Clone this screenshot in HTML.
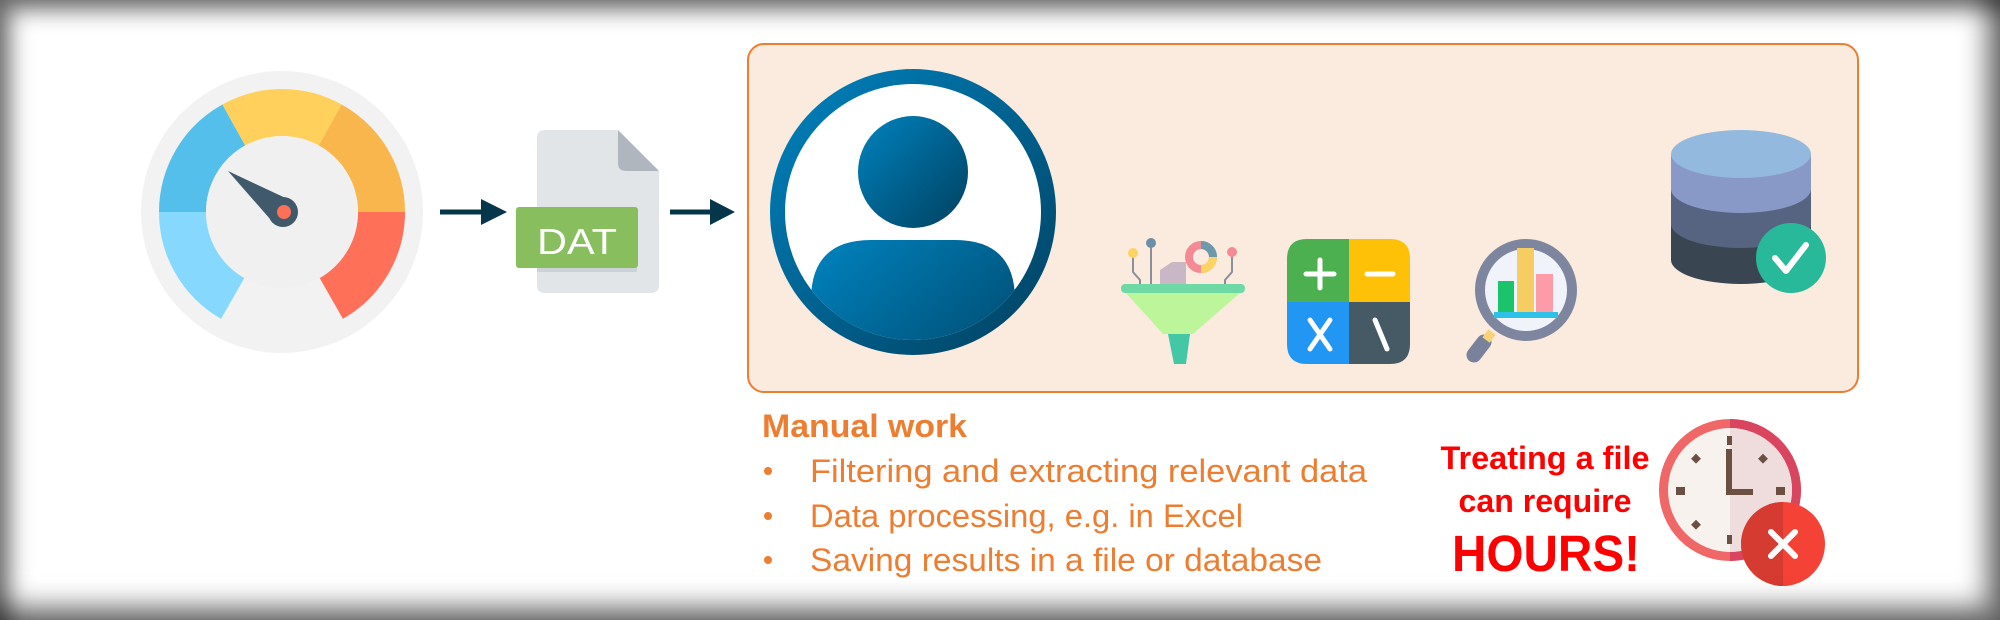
<!DOCTYPE html>
<html><head><meta charset="utf-8"><style>
html,body{margin:0;padding:0;width:2000px;height:620px;overflow:hidden;background:#fff}
#f{position:absolute;left:0;top:0;width:2000px;height:620px;box-shadow:inset 10px 10px 22px rgba(0,0,0,.55),inset -14px -14px 26px rgba(0,0,0,.55)}
svg{position:absolute;left:0;top:0}
</style></head><body>
<svg width="2000" height="620" viewBox="0 0 2000 620" xmlns="http://www.w3.org/2000/svg">
<defs>
<linearGradient id="pg" x1="0" y1="0" x2="1" y2="1"><stop offset="0" stop-color="#0083BF"/><stop offset="1" stop-color="#00405F"/></linearGradient>
<clipPath id="pc"><circle cx="913" cy="212" r="128"/></clipPath>
</defs>
<!-- gauge -->
<circle cx="282" cy="212" r="141" fill="#F2F2F2"/>
<g fill="none" stroke-width="47">
<path d="M232.7,298.4 A99.5,99.5 0 0 1 182.5,212" stroke="#87D8FF"/>
<path d="M182.5,212 A99.5,99.5 0 0 1 233.8,125" stroke="#55BFEB"/>
<path d="M233.8,125 A99.5,99.5 0 0 1 330.2,125" stroke="#FFD15C"/>
<path d="M330.2,125 A99.5,99.5 0 0 1 381.5,212" stroke="#F8B64C"/>
<path d="M381.5,212 A99.5,99.5 0 0 1 331.3,298.4" stroke="#FF7058"/>
</g>
<circle cx="282" cy="212" r="76" fill="#F0F0F0"/>
<polygon points="228,171 274.6,224.2 291.4,200.8" fill="#40596B"/>
<circle cx="283" cy="212" r="15" fill="#40596B"/>
<circle cx="284" cy="212" r="7" fill="#FF7058"/>
<!-- arrows -->
<g fill="#06364A" stroke="#06364A">
<line x1="440" y1="212" x2="484" y2="212" stroke-width="5"/><polygon points="481,199 507,212 481,225" stroke="none"/>
<line x1="670" y1="212" x2="712" y2="212" stroke-width="5"/><polygon points="710,199 735,212 710,225" stroke="none"/>
<line x1="1063" y1="212" x2="1615" y2="212" stroke-width="5"/><polygon points="1612,199 1637,212 1612,225" stroke="none"/>
</g>
<!-- file -->
<path d="M545,130 L618,130 L659,171 L659,285 Q659,293 651,293 L545,293 Q537,293 537,285 L537,138 Q537,130 545,130Z" fill="#E1E5E8"/>
<path d="M618,130 L618,163 Q618,171 626,171 L659,171Z" fill="#B0B6BD"/>
<rect x="537" y="215" width="100" height="57" fill="#CDD2D8"/>
<rect x="516" y="207" width="122" height="61" rx="3" fill="#88BE5E"/>
<text x="577" y="254" text-anchor="middle" font-family="Liberation Sans,sans-serif" font-size="36" fill="#fff" textLength="80" lengthAdjust="spacingAndGlyphs">DAT</text>
<!-- box -->
<rect x="748" y="44" width="1110" height="348" rx="16" fill="#FBEBDF" stroke="#ED7D31" stroke-width="2"/>
<!-- person -->
<circle cx="913" cy="212" r="143" fill="url(#pg)"/>
<circle cx="913" cy="212" r="128" fill="#fff"/>
<g clip-path="url(#pc)" fill="url(#pg)">
<ellipse cx="913" cy="172" rx="55" ry="56"/>
<path d="M811,420 L811,300 Q811,240 871,240 L955,240 Q1015,240 1015,300 L1015,420Z"/>
</g>
<!-- funnel -->
<g stroke="#8A8F9A" stroke-width="2" fill="none">
<path d="M1133,255 V272 L1140,280 V286"/><path d="M1151,246 V286"/><path d="M1232,255 V272 L1225,280 V286"/>
</g>
<circle cx="1133" cy="253" r="5" fill="#FCD462"/><circle cx="1151" cy="243" r="5" fill="#6C8EA8"/><circle cx="1232" cy="252" r="5" fill="#F58A97"/>
<path d="M1160,286 V270 L1172,262 H1186 V286Z" fill="#C9B7C5"/>
<circle cx="1201" cy="257" r="12" fill="none" stroke="#F58A97" stroke-width="8"/>
<path d="M1201,245 A12,12 0 0 1 1213,257" fill="none" stroke="#6C9AAA" stroke-width="8"/>
<path d="M1213,257 A12,12 0 0 1 1201,269" fill="none" stroke="#FCD462" stroke-width="8"/>
<rect x="1121" y="284" width="124" height="9" rx="4" fill="#6FD9A6"/>
<polygon points="1126,293 1240,293 1193,334 1163,334" fill="#BDF59A"/>
<polygon points="1168,334 1190,334 1186,364 1174,364" fill="#44C7A4"/>
<!-- calculator -->
<g>
<path d="M1307,239 H1349 V302 H1287 V259 Q1287,239 1307,239Z" fill="#4CAF50"/>
<path d="M1349,239 H1390 Q1410,239 1410,259 V302 H1349Z" fill="#FFC107"/>
<path d="M1287,302 H1349 V364 H1307 Q1287,364 1287,344Z" fill="#2196F3"/>
<path d="M1349,302 H1410 V344 Q1410,364 1390,364 H1349Z" fill="#455A64"/>
<g stroke="#fff" stroke-width="5" stroke-linecap="round">
<line x1="1306" y1="274" x2="1334" y2="274"/><line x1="1320" y1="260" x2="1320" y2="288"/>
<line x1="1367" y1="274" x2="1393" y2="274"/>
<line x1="1310" y1="320" x2="1330" y2="349"/><line x1="1330" y1="320" x2="1310" y2="349"/>
<line x1="1375" y1="320" x2="1387" y2="349"/>
</g></g>
<!-- magnifier -->
<line x1="1474" y1="355" x2="1484" y2="342" stroke="#7A819A" stroke-width="15" stroke-linecap="round"/>
<line x1="1486" y1="340" x2="1492" y2="332" stroke="#F6D27A" stroke-width="9"/>
<circle cx="1526" cy="290" r="46" fill="#F0F4FA" stroke="#7E869F" stroke-width="10"/>
<rect x="1498" y="281" width="16" height="32" fill="#1BC46B"/>
<rect x="1517" y="248" width="17" height="65" fill="#F6CD63"/>
<rect x="1536" y="274" width="17" height="39" fill="#FE9BA8"/>
<rect x="1494" y="312" width="64" height="6" fill="#2EC0E6"/>
<!-- database -->
<rect x="1671" y="224" width="140" height="36" fill="#394551"/><ellipse cx="1741" cy="260" rx="70" ry="24" fill="#394551"/>
<rect x="1671" y="189" width="140" height="35" fill="#566381"/><ellipse cx="1741" cy="224" rx="70" ry="24" fill="#566381"/>
<rect x="1671" y="154" width="140" height="35" fill="#8899C8"/><ellipse cx="1741" cy="189" rx="70" ry="24" fill="#8899C8"/>
<ellipse cx="1741" cy="154" rx="70" ry="24" fill="#93B9DF"/>
<circle cx="1791" cy="258" r="35" fill="#27B99A"/>
<polyline points="1775,258 1786,271 1806,245" fill="none" stroke="#fff" stroke-width="6" stroke-linecap="round" stroke-linejoin="round"/>
<!-- text -->
<g font-family="Liberation Sans,sans-serif" fill="#ED7D31">
<text x="762" y="437" font-size="32" font-weight="bold" textLength="205" lengthAdjust="spacingAndGlyphs">Manual work</text>
<circle cx="768" cy="471" r="4"/><circle cx="768" cy="516" r="4"/><circle cx="768" cy="560" r="4"/>
<text x="810" y="482" font-size="32" textLength="557" lengthAdjust="spacingAndGlyphs">Filtering and extracting relevant data</text>
<text x="810" y="527" font-size="32" textLength="433" lengthAdjust="spacingAndGlyphs">Data processing, e.g. in Excel</text>
<text x="810" y="571" font-size="32" textLength="512" lengthAdjust="spacingAndGlyphs">Saving results in a file or database</text>
</g>
<g font-family="Liberation Sans,sans-serif" fill="#FF0000" font-weight="bold" text-anchor="middle">
<text x="1545" y="469" font-size="32" textLength="209" lengthAdjust="spacingAndGlyphs">Treating a file</text>
<text x="1545" y="512" font-size="32" textLength="173" lengthAdjust="spacingAndGlyphs">can require</text>
<text x="1546" y="571" font-size="51" textLength="188" lengthAdjust="spacingAndGlyphs">HOURS!</text>
</g>
<!-- clock -->
<circle cx="1730" cy="490" r="71" fill="#F06767"/>
<path d="M1730,419 A71,71 0 0 1 1730,561Z" fill="#D9455F"/>
<circle cx="1730" cy="490" r="62" fill="#F8F2EE"/>
<path d="M1730,428 A62,62 0 0 1 1730,552Z" fill="#EFDCDC"/>
<g fill="#6B5041">
<rect x="1727" y="436" width="5" height="9"/><rect x="1727" y="535" width="5" height="9"/>
<rect x="1676" y="487" width="9" height="8"/><rect x="1776" y="487" width="9" height="8"/>
<rect x="1693" y="455" width="7" height="7" transform="rotate(45 1696 458)"/>
<rect x="1760" y="455" width="7" height="7" transform="rotate(45 1763 458)"/>
<rect x="1693" y="521" width="7" height="7" transform="rotate(45 1696 524)"/>
<rect x="1726" y="449" width="6" height="45"/><rect x="1726" y="489" width="27" height="6"/>
</g>
<circle cx="1783" cy="544" r="42" fill="#F44336"/>
<path d="M1783,502 A42,42 0 0 0 1783,586Z" fill="#D63B32"/>
<g stroke="#fff" stroke-width="6" stroke-linecap="round"><line x1="1771" y1="532" x2="1795" y2="556"/><line x1="1795" y1="532" x2="1771" y2="556"/></g>
</svg>
<div id="f"></div>
</body></html>
